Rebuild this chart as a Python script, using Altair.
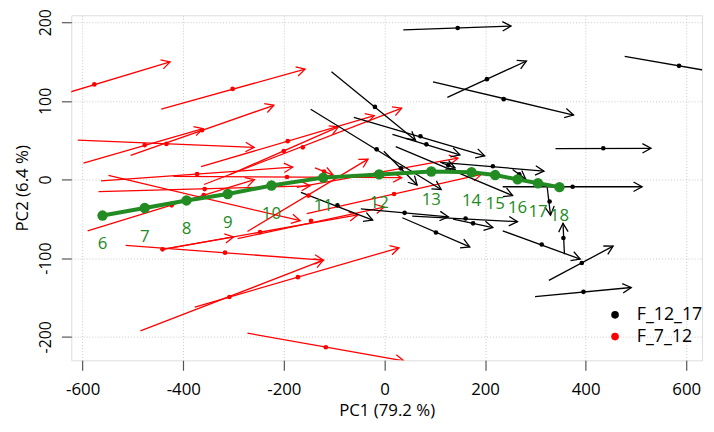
import math
import altair as alt
import pandas as pd

# ---------------- data ----------------
# F_7_12 (red): arrow start (x0,y0), marked point (xd,yd), arrow end (x1,y1)
red_x0 = [-727.5, -443.8, -598.4, -504.7, -609.6, -364.6, -308.2, -358.7, -563.6, -419.6, -568.4, -548.7, -590.0, -441.2, -514.5, -272.3, -441.2, -291.9, -377.0, -485.1, -272.3, -154.4, -174.1, -138.1]
red_y0 = [91.5, 89.4, 21.0, 30.6, 50.0, 16.4, 6.1, -6.3, -1.7, 4.0, -15.4, 5.2, -65.2, -88.8, -83.8, -66.0, -88.8, -75.1, -162.2, -192.5, -195.4, -43.3, -10.1, 14.8]
red_xd = [-576.8, -301.8, -476.6, -362.7, -433.4, -192.3, -200.2, -162.3, -372.5, -193.7, -357.4, -359.3, -423.0, -441.2, -316.9, -151.1, -247.3, -146.0, -172.1, -308.2, -116.5, 19.1, -14.9, -120.0]
red_yd = [120.9, 115.2, 43.8, 62.7, 45.3, 48.8, 36.3, 40.9, 7.0, 3.2, -12.2, -19.7, -32.8, -88.8, -93.0, -20.4, -66.9, -52.4, -124.1, -149.4, -213.2, -18.4, 8.6, 10.2]
red_x1 = [-426.1, -157.8, -360.7, -219.8, -259.1, -20.2, -91.5, 34.2, -182.5, 34.2, -147.9, -167.6, -258.5, -300.0, -121.6, -32.6, -53.0, -0.6, 28.9, -121.6, 38.7, 192.7, 146.2, -102.0]
red_y1 = [149.5, 140.4, 64.6, 94.4, 40.9, 81.1, 67.0, 90.7, 15.7, 2.4, -8.0, -52.4, -0.1, -73.0, -102.5, 26.0, -45.0, -35.0, -86.8, -102.5, -230.6, 6.5, 27.2, 5.7]

# F_12_17 (black)
blk_x0 = [37.5, 96.5, 125.1, 477.6, 340.1, 235.2, -105.3, -146.6, -60.7, 15.9, -1.2, 110.8, 22.4, 323.6, 357.8, 235.2, 326.9, 299.4, -166.2, -47.0, 55.2, 136.3, 35.6, 254.8, 114.1]
blk_y0 = [190.2, 124.3, 104.4, 156.6, 39.3, -9.2, 137.1, 89.4, 79.1, 57.5, 35.9, 21.9, 41.8, -10.1, -95.0, -65.2, -128.2, -149.0, -16.3, -37.4, -46.5, -50.5, -48.6, 12.7, 21.0]
blk_xd = [145.6, 237.1, 203.7, 585.6, 435.0, 374.1, -18.9, -15.5, 71.5, 83.3, 32.8, 215.5, 138.3, 328.3, 355.8, 312.6, 392.3, 395.7, -93.5, 40.1, 161.3, 176.2, 102.4, 268.0, 127.0]
blk_yd = [192.7, 102.2, 127.6, 144.5, 39.7, -9.2, 92.3, 38.4, 55.0, 44.7, 14.2, 16.9, 11.1, -27.9, -74.4, -82.6, -106.2, -142.8, -32.8, -42.4, -49.5, -55.7, -67.3, 6.5, 18.0]
blk_x1 = [251.7, 376.0, 282.3, 693.7, 529.9, 512.2, 61.7, 112.8, 199.2, 150.1, 65.0, 317.1, 254.8, 330.2, 355.0, 389.2, 454.6, 490.6, -23.4, 127.1, 264.6, 215.5, 169.7, 281.1, 140.3]
blk_y1 = [195.2, 82.0, 150.7, 132.5, 39.7, -9.2, 50.0, -12.6, 30.1, 31.3, -7.0, 10.7, -20.4, -45.3, -55.7, -101.2, -84.7, -137.3, -51.5, -47.4, -53.6, -61.1, -85.6, 0.2, 14.8]

# mean trajectory (green)
ages = ["6", "7", "8", "9", "10", "11", "12", "13", "14", "15", "16", "17", "18"]
traj_pc1 = [-560.5, -476.6, -393.5, -311.6, -224.6, -121.6, -10.4, 93.1, 173.1, 220.2, 264.6, 305.3, 347.9]
traj_pc2 = [-45.8, -36.2, -26.6, -18.4, -7.6, 2.4, 6.5, 10.2, 9.2, 5.7, 0.2, -4.7, -9.7]

x_ticks = [-600, -400, -200, 0, 200, 400, 600]
y_ticks = [-200, -100, 0, 100, 200]
x_domain = [-622.6, 631.4]
y_domain = [-229.9, 208.8]
W, H = 638, 349
FONT = "Open Sans"
GREEN = "#228B22"


def to_px(x, y):
    px = (x - x_domain[0]) / (x_domain[1] - x_domain[0]) * W
    py = H - (y - y_domain[0]) / (y_domain[1] - y_domain[0]) * H
    return px, py


def arrow_frame(x0, y0, xd, yd, x1, y1, group):
    rows = []
    for a, b, c, d, e, f in zip(x0, y0, xd, yd, x1, y1):
        p0 = to_px(a, b)
        p1 = to_px(e, f)
        ang = math.degrees(math.atan2(p1[1] - p0[1], p1[0] - p0[0])) % 360
        rows.append(dict(x0=a, y0=b, xd=c, yd=d, x1=e, y1=f, angle=ang, group=group))
    return pd.DataFrame(rows)


red = arrow_frame(red_x0, red_y0, red_xd, red_yd, red_x1, red_y1, "F_7_12")
blk = arrow_frame(blk_x0, blk_y0, blk_xd, blk_yd, blk_x1, blk_y1, "F_12_17")
dots = pd.concat([red, blk])
traj = pd.DataFrame({"pc1": traj_pc1, "pc2": traj_pc2, "age": ages, "i": range(len(ages))})

xs = alt.Scale(domain=x_domain, nice=False, zero=False)
ys = alt.Scale(domain=y_domain, nice=False, zero=False)

x_axis = alt.Axis(values=x_ticks, title="PC1 (79.2 %)", grid=True, gridDash=[1, 2],
                  gridColor="#c8c8c8", tickSize=10, tickColor="#555", tickWidth=1.2,
                  labelFontSize=17, titleFontSize=17, labelPadding=12, titlePadding=5,
                  labelFont=FONT, titleFont=FONT, domain=False, labelColor="black",
                  titleColor="black", titleFontWeight="normal",
                  labelExpr="'' + datum.value")
y_axis = alt.Axis(values=y_ticks, title="PC2 (6.4 %)", grid=True, gridDash=[1, 2],
                  gridColor="#c8c8c8", tickSize=10, tickColor="#555", tickWidth=1.2,
                  labelFontSize=16, titleFontSize=17, labelPadding=8, titlePadding=6,
                  labelAngle=-90, labelAlign="center", labelBaseline="bottom",
                  labelFont=FONT, titleFont=FONT, domain=False, labelColor="black",
                  titleColor="black", titleFontWeight="normal",
                  labelExpr="'' + datum.value")

HEAD = "M-1,-0.55L0,0L-1,0.55"


def arrows(df, color):
    base = alt.Chart(df)
    lines = base.mark_rule(color=color, strokeWidth=1.3, clip=True).encode(
        x=alt.X("x0:Q", scale=xs, axis=x_axis), y=alt.Y("y0:Q", scale=ys, axis=y_axis),
        x2="x1:Q", y2="y1:Q")
    heads = base.mark_point(shape=HEAD, filled=False, color=color, strokeWidth=1.3,
                            size=300, opacity=1, clip=True).encode(
        x=alt.X("x1:Q", scale=xs), y=alt.Y("y1:Q", scale=ys),
        angle=alt.Angle("angle:Q", scale=None))
    return lines + heads


dot_layer = alt.Chart(dots).mark_circle(size=22, opacity=1, clip=True).encode(
    x=alt.X("xd:Q", scale=xs), y=alt.Y("yd:Q", scale=ys),
    color=alt.Color("group:N",
                    scale=alt.Scale(domain=["F_12_17", "F_7_12"], range=["black", "red"]),
                    legend=alt.Legend(title=None, orient="none", legendX=541, legendY=294,
                                      symbolType="circle", symbolSize=60, labelFontSize=18,
                                      labelFont=FONT, labelColor="black", labelOffset=13,
                                      rowPadding=4, padding=0, symbolStrokeWidth=0)))

tline = alt.Chart(traj).mark_line(color=GREEN, strokeWidth=4).encode(
    x=alt.X("pc1:Q", scale=xs), y=alt.Y("pc2:Q", scale=ys), order="i:Q")
tpts = alt.Chart(traj).mark_circle(color=GREEN, size=110, opacity=1).encode(
    x=alt.X("pc1:Q", scale=xs), y=alt.Y("pc2:Q", scale=ys))
tlab = alt.Chart(traj).mark_text(color=GREEN, fontSize=17, font=FONT, dy=29).encode(
    x=alt.X("pc1:Q", scale=xs), y=alt.Y("pc2:Q", scale=ys), text="age:N")

chart = alt.layer(arrows(red, "red"), arrows(blk, "black"), dot_layer, tline, tpts, tlab).properties(
    width=W, height=H,
    autosize=alt.AutoSizeParams(type="none"),
    padding={"left": 64, "top": 5, "right": 4, "bottom": 62},
).configure_view(stroke="#555", strokeWidth=1.3).configure(background="white")

chart.save("out.html", embed_options={"renderer": "svg", "actions": False})
